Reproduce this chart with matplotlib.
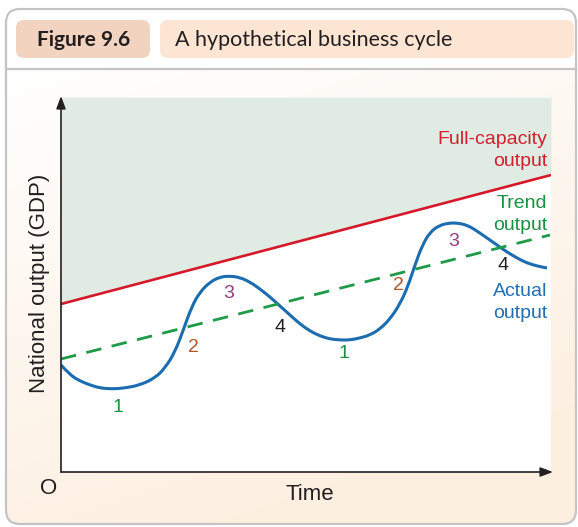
import numpy as np
import matplotlib
matplotlib.use('Agg')
import matplotlib.pyplot as plt
from matplotlib.patches import FancyBboxPatch, PathPatch
from matplotlib.path import Path

# ---- data (units: time 0..490, output 0..375) ----
time = [0, 9, 19, 29, 39, 51, 64, 79, 94, 104, 114, 123, 131, 139, 149, 159, 169,
        179, 189, 199, 209, 219, 229, 239, 249, 259, 269, 279, 289, 299, 309, 319,
        329, 339, 347, 354, 361, 369, 379, 389, 396, 406, 416, 426, 436, 446, 456,
        466, 476, 486]
actual = [107, 97, 91, 87, 84, 83, 84, 87, 94, 104, 120, 144, 166, 180, 190, 195, 196,
          194.5, 190, 183, 175, 166, 157, 148, 141, 136, 133, 132, 132, 134, 137, 143,
          153, 168, 186, 207, 226, 240, 247, 249, 249, 247, 241, 234, 227, 220, 214,
          209, 206, 204]
trend_t = [0, 489]
trend_v = [113, 237]
full_t = [0, 490]
full_v = [168, 297]
phase_labels = ['1', '2', '3', '4', '1', '2', '3', '4']
phase_t = [57, 132, 168, 219, 283, 337, 393, 442]
phase_v = [64, 125, 178, 144, 118, 187, 230, 206]
phase_colors = ['#1a9140', '#b0562a', '#9b3a7c', '#231f20'] * 2

W, H = 578, 527
fig = plt.figure(figsize=(W / 100, H / 100), dpi=100)
fig.patch.set_facecolor('white')
bg = fig.add_axes([0, 0, 1, 1])
bg.set_xlim(0, W)
bg.set_ylim(H, 0)
bg.axis('off')

# outer rounded box with gradient
box = FancyBboxPatch((6, 9), 570, 515, boxstyle='round,pad=0,rounding_size=14',
                     fc='white', ec='none', zorder=0)
bg.add_patch(box)
yy, xx = np.mgrid[0:H, 0:W].astype(float)
t = np.clip(0.35 * xx / W + 0.85 * (yy - 69) / (H - 69), 0, 1)
t = np.where(yy < 69, 0, t)
c0 = np.array([255, 255, 255]) / 255
c1 = np.array([253, 239, 224]) / 255
img = c0[None, None, :] * (1 - t[..., None]) + c1[None, None, :] * t[..., None]
im = bg.imshow(img, extent=(0, W, H, 0), zorder=1, aspect='auto')
im.set_clip_path(box)
bg.add_patch(FancyBboxPatch((6, 9), 570, 515, boxstyle='round,pad=0,rounding_size=14',
                            fc='none', ec='#c4c4c4', lw=1.6, zorder=3))
bg.plot([6, 576], [68.5, 68.5], color='#c4c4c4', lw=1.6, zorder=3)

# header
bg.add_patch(FancyBboxPatch((16, 20), 134, 38, boxstyle='round,pad=0,rounding_size=8',
                            fc='#f2d3c0', ec='none', zorder=2))
bg.add_patch(FancyBboxPatch((160, 20), 414, 38, boxstyle='round,pad=0,rounding_size=8',
                            fc='#fde5d4', ec='none', zorder=2))
bg.text(84, 40, 'Figure 9.6', fontsize=15, fontweight='bold', family='Lato',
        color='#231f20', ha='center', va='center', zorder=4)
bg.text(175, 40, 'A hypothetical business cycle', fontsize=15.5, family='Lato',
        color='#231f20', ha='left', va='center', zorder=4)

# axis texts outside plot
bg.text(49, 488, 'O', fontsize=16, family='Liberation Sans', color='#231f20',
        ha='center', va='center', zorder=4)
bg.text(310, 494, 'Time', fontsize=16, family='Liberation Sans', color='#231f20',
        ha='center', va='center', zorder=4)
bg.text(40, 283, 'National output (GDP)', fontsize=16, family='Liberation Sans',
        color='#231f20', ha='center', va='center', rotation=90, zorder=4)

# main plot
ax = fig.add_axes([61 / W, (H - 472) / H, 490 / W, 375 / H], zorder=5)
ax.set_xlim(0, 490)
ax.set_ylim(0, 375)
ax.set_facecolor('white')
for s in ax.spines.values():
    s.set_visible(False)
ax.set_xticks([])
ax.set_yticks([])

ax.fill_between(full_t, full_v, 375, color='#e0ebe3', lw=0)
ax.plot(full_t, full_v, color='#d7182a', lw=1.9, solid_capstyle='butt')
ax.plot(trend_t, trend_v, color='#1f9a48', lw=2.0, dashes=(5.6, 3.8))

# smooth actual-output curve: quadratic Bezier path through the read points
pts = np.column_stack([time, actual])
verts = [pts[0]]
codes = [Path.MOVETO]
for i in range(1, len(pts) - 1):
    verts += [pts[i], (pts[i] + pts[i + 1]) / 2]
    codes += [Path.CURVE3, Path.CURVE3]
verts.append(pts[-1])
codes.append(Path.LINETO)
ax.add_patch(PathPatch(Path(verts, codes), fc='none', ec='#1c6cb0', lw=2.2,
                       capstyle='butt', joinstyle='round'))

arrow = dict(arrowstyle='-|>,head_length=0.75,head_width=0.28', color='#231f20',
             lw=1.2, shrinkA=0, shrinkB=0)
ax.annotate('', xy=(492, 0), xytext=(0, 0), arrowprops=arrow, annotation_clip=False)
ax.annotate('', xy=(0, 376), xytext=(0, 0), arrowprops=arrow, annotation_clip=False)

for lab, x, y, c in zip(phase_labels, phase_t, phase_v, phase_colors):
    ax.text(x, y, lab, fontsize=14, family='Liberation Sans', color=c,
            ha='center', va='center')

lab_kw = dict(fontsize=14, family='Liberation Sans', ha='right', va='center')
ax.text(486, 332, 'Full-capacity', color='#d2202f', **lab_kw)
ax.text(486, 310, 'output', color='#d2202f', **lab_kw)
ax.text(486, 269, 'Trend', color='#1a9140', **lab_kw)
ax.text(486, 247, 'output', color='#1a9140', **lab_kw)
ax.text(486, 180, 'Actual', color='#1f6fb2', **lab_kw)
ax.text(486, 159, 'output', color='#1f6fb2', **lab_kw)

fig.savefig('out.png', dpi=100)
